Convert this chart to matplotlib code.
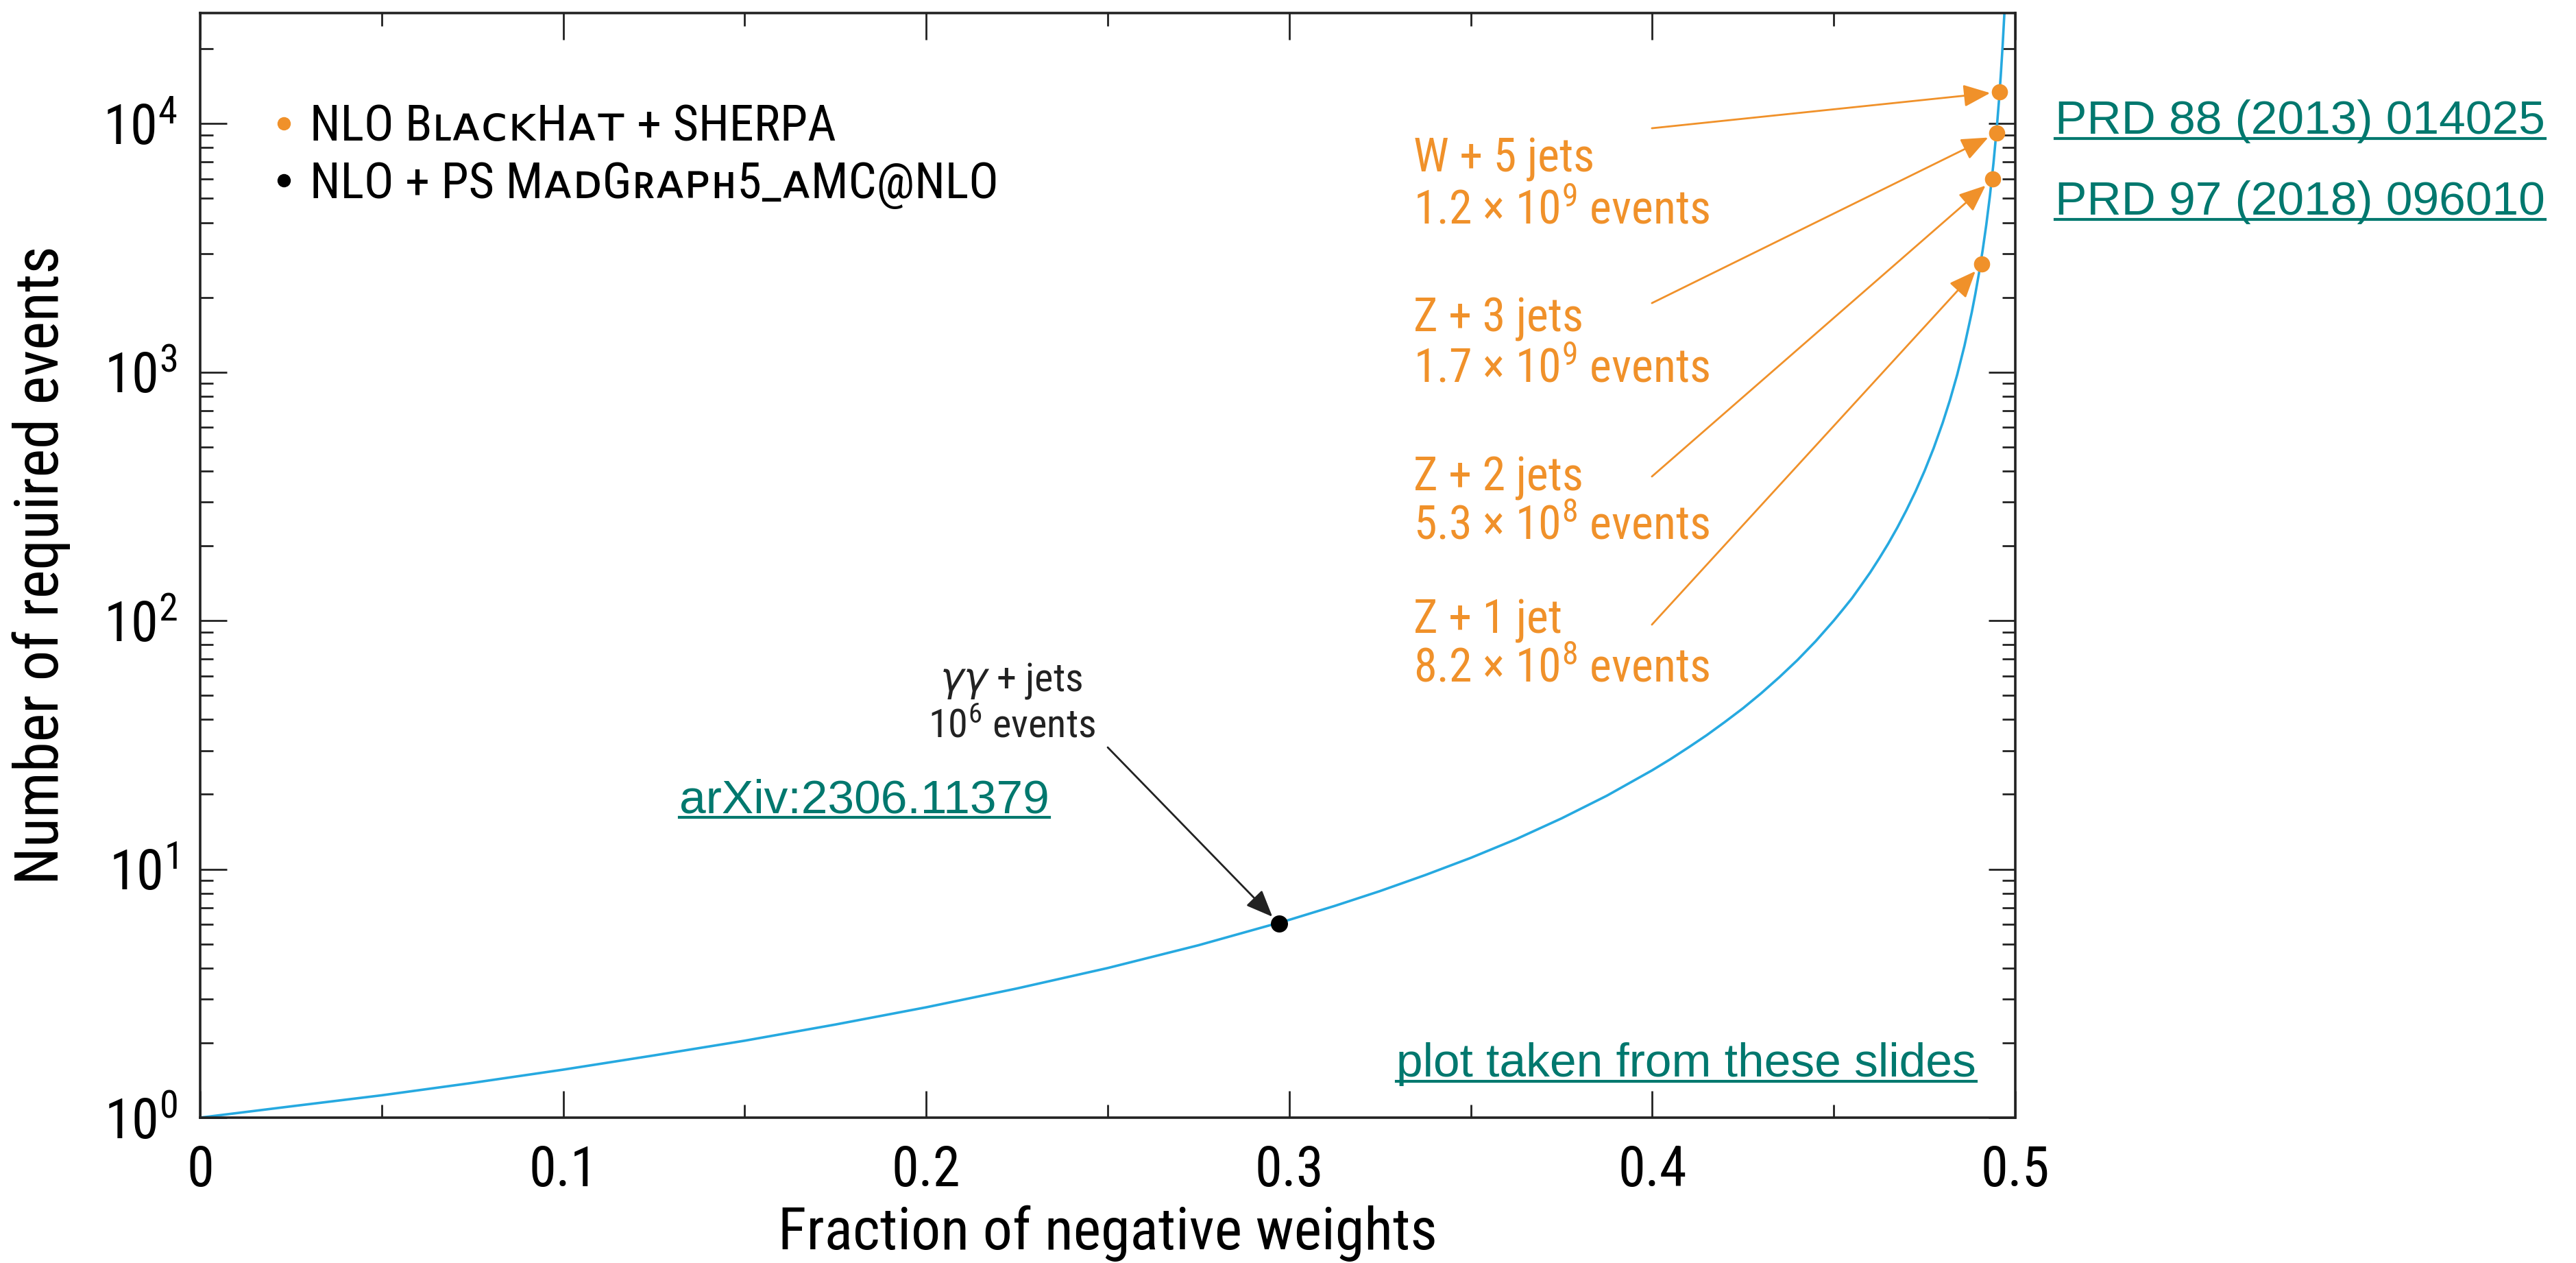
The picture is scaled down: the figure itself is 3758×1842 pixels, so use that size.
import matplotlib
matplotlib.use("Agg")
import matplotlib.pyplot as plt
from matplotlib.lines import Line2D
from matplotlib.ticker import MultipleLocator, LogLocator, FuncFormatter

ORANGE = "#F0912A"
BLUE = "#26A9E0"
TEAL = "#00786E"
DARK = "#222222"

# curve: fraction of negative weights vs. required events
frac_neg = [0.0, 0.025, 0.05, 0.075, 0.1, 0.125, 0.15, 0.175, 0.2, 0.225, 0.25,
            0.275, 0.3, 0.3125, 0.325, 0.3375, 0.35, 0.3625, 0.375, 0.3875, 0.4,
            0.405, 0.41, 0.415, 0.42, 0.425, 0.43, 0.435, 0.44, 0.445, 0.45,
            0.4525, 0.455, 0.4575, 0.46, 0.4625, 0.465, 0.4675, 0.47, 0.4725,
            0.475, 0.4775, 0.48, 0.482, 0.484, 0.486, 0.488, 0.489, 0.49, 0.491,
            0.492, 0.493, 0.494, 0.495, 0.4955, 0.496, 0.4965, 0.497, 0.4975, 0.498]
n_required = [1.0, 1.11, 1.23, 1.38, 1.56, 1.78, 2.04, 2.37, 2.78, 3.31, 4.0,
              4.94, 6.25, 7.11, 8.16, 9.47, 11.1, 13.2, 16.0, 19.75, 25.0,
              27.7, 30.9, 34.6, 39.1, 44.4, 51.0, 59.2, 69.4, 82.6, 100,
              110.8, 123, 138.4, 156, 177.8, 204, 236.7, 278, 330.6,
              400, 493.8, 625, 771.6, 976.6, 1276, 1736, 2066, 2500, 3086,
              3906, 5102, 6944, 10000, 12346, 15625, 20408, 27778, 40000, 62500]

# NLO BlackHat + SHERPA samples
nlo_frac = [0.4957, 0.4949, 0.4938, 0.4908]
nlo_events = [13400, 9140, 5970, 2720]
nlo_process = ["W + 5 jets", "Z + 3 jets", "Z + 2 jets", "Z + 1 jet"]
nlo_samples = ["1.2 × $\\mathdefault{10^{9}}$ events", "1.7 × $\\mathdefault{10^{9}}$ events",
               "5.3 × $\\mathdefault{10^{8}}$ events", "8.2 × $\\mathdefault{10^{8}}$ events"]

# NLO + PS MadGraph5_aMC@NLO sample
ps_frac = [0.2972]
ps_events = [6.04]
ps_process = "$\\gamma\\gamma$ + jets"
ps_samples = "$\\mathdefault{10^{6}}$ events"

legend_labels = ["NLO BʟᴀᴄᴋHᴀᴛ + SHERPA", "NLO + PS MᴀᴅGʀᴀᴘʜ5_ᴀMC@NLO"]
links = ["PRD 88 (2013) 014025", "PRD 97 (2018) 096010",
         "arXiv:2306.11379", "plot taken from these slides"]

plt.rcParams["font.family"] = ["Roboto Condensed", "PT Sans Narrow",
                               "Fira Sans Condensed", "DejaVu Sans"]
plt.rcParams["mathtext.fontset"] = "dejavusans"

W, H, DPI = 3758, 1842, 200
fig = plt.figure(figsize=(W / DPI, H / DPI), dpi=DPI)
ax = fig.add_axes([292 / W, 1 - 1630 / H, (2940 - 292) / W, (1630 - 19) / H])

ax.plot(frac_neg, n_required, color=BLUE, lw=1.3, zorder=2)
ax.plot(nlo_frac, nlo_events, "o", color=ORANGE, ms=8.5, mec="none", zorder=3)
ax.plot(ps_frac, ps_events, "o", color="black", ms=9, mec="none", zorder=3)

ax.set_yscale("log")
ax.set_xlim(0, 0.5)
ax.set_ylim(1, 10 ** 4.445)

ax.xaxis.set_major_locator(MultipleLocator(0.1))
ax.xaxis.set_minor_locator(MultipleLocator(0.05))
ax.xaxis.set_major_formatter(FuncFormatter(lambda v, p: f"{v:g}"))
ax.yaxis.set_major_locator(LogLocator(base=10, numticks=10))
ax.yaxis.set_minor_locator(LogLocator(base=10, subs=range(2, 10), numticks=20))
ax.tick_params(which="both", direction="in", top=True, right=True,
               color=DARK, width=1.0, labelsize=29)
ax.tick_params(which="major", length=14)
ax.tick_params(which="minor", length=7)
ax.tick_params(axis="x", pad=14)
ax.tick_params(axis="y", pad=12)
for s in ax.spines.values():
    s.set_color(DARK)
    s.set_linewidth(1.3)

ax.set_xlabel("Fraction of negative weights", fontsize=31, labelpad=4)
ax.set_ylabel("Number of required events", fontsize=32, labelpad=17)

handles = [Line2D([], [], ls="none", marker="o", color=ORANGE, mec="none", ms=7),
           Line2D([], [], ls="none", marker="o", color="black", mec="none", ms=7)]
ax.legend(handles, legend_labels, loc="upper left", bbox_to_anchor=(0.0408, 0.918),
          frameon=False, fontsize=26, handlelength=0.4, handletextpad=0.32,
          labelspacing=0.2, borderpad=0, borderaxespad=0)

# orange annotations (axes-fraction layout)
tails_y = [0.8957, 0.7374, 0.5804, 0.4463]
text_y = [(0.8678, 0.8212), (0.7232, 0.6778), (0.5791, 0.5351), (0.4500, 0.4060)]
for i in range(len(nlo_frac)):
    ax.annotate("", xy=(nlo_frac[i], nlo_events[i]), xycoords="data",
                xytext=(0.7998, tails_y[i]), textcoords="axes fraction",
                arrowprops=dict(arrowstyle="-|>,head_length=0.6,head_width=0.25",
                                color=ORANGE, lw=1.0, mutation_scale=20,
                                shrinkA=0, shrinkB=5))
    ax.text(0.6684, text_y[i][0], nlo_process[i], transform=ax.transAxes,
            color=ORANGE, fontsize=24.5, ha="left", va="center")
    ax.text(0.6684, text_y[i][1], nlo_samples[i], transform=ax.transAxes,
            color=ORANGE, fontsize=24.5, ha="left", va="center")

ax.annotate("", xy=(ps_frac[0], ps_events[0]), xycoords="data",
            xytext=(0.50, 0.3352), textcoords="axes fraction",
            arrowprops=dict(arrowstyle="-|>,head_length=0.6,head_width=0.25",
                            color=DARK, lw=1.0, mutation_scale=20,
                            shrinkA=0, shrinkB=5))
ax.text(0.447, 0.3954, ps_process, transform=ax.transAxes, fontsize=21,
        ha="center", va="center", color=DARK)
ax.text(0.447, 0.3538, ps_samples, transform=ax.transAxes, fontsize=21,
        ha="center", va="center", color=DARK)

# teal "hyperlinks" with underline
link_pos = [(2998, 195), (2998, 313), (991, 1185), (2037, 1570)]
link_texts = []
for s, (px, py) in zip(links, link_pos):
    t = fig.text(px / W, 1 - py / H, s, color=TEAL, fontsize=25,
                 family="Liberation Sans", ha="left", va="baseline")
    link_texts.append(t)

fig.canvas.draw()
r = fig.canvas.get_renderer()
for t, (px, py) in zip(link_texts, link_pos):
    bb = t.get_window_extent(r)
    yb = 1 - (py + 7) / H
    fig.add_artist(Line2D([bb.x0 / W, bb.x1 / W], [yb, yb], color=TEAL, lw=1.5,
                          transform=fig.transFigure))

fig.savefig("out.png", dpi=DPI)
